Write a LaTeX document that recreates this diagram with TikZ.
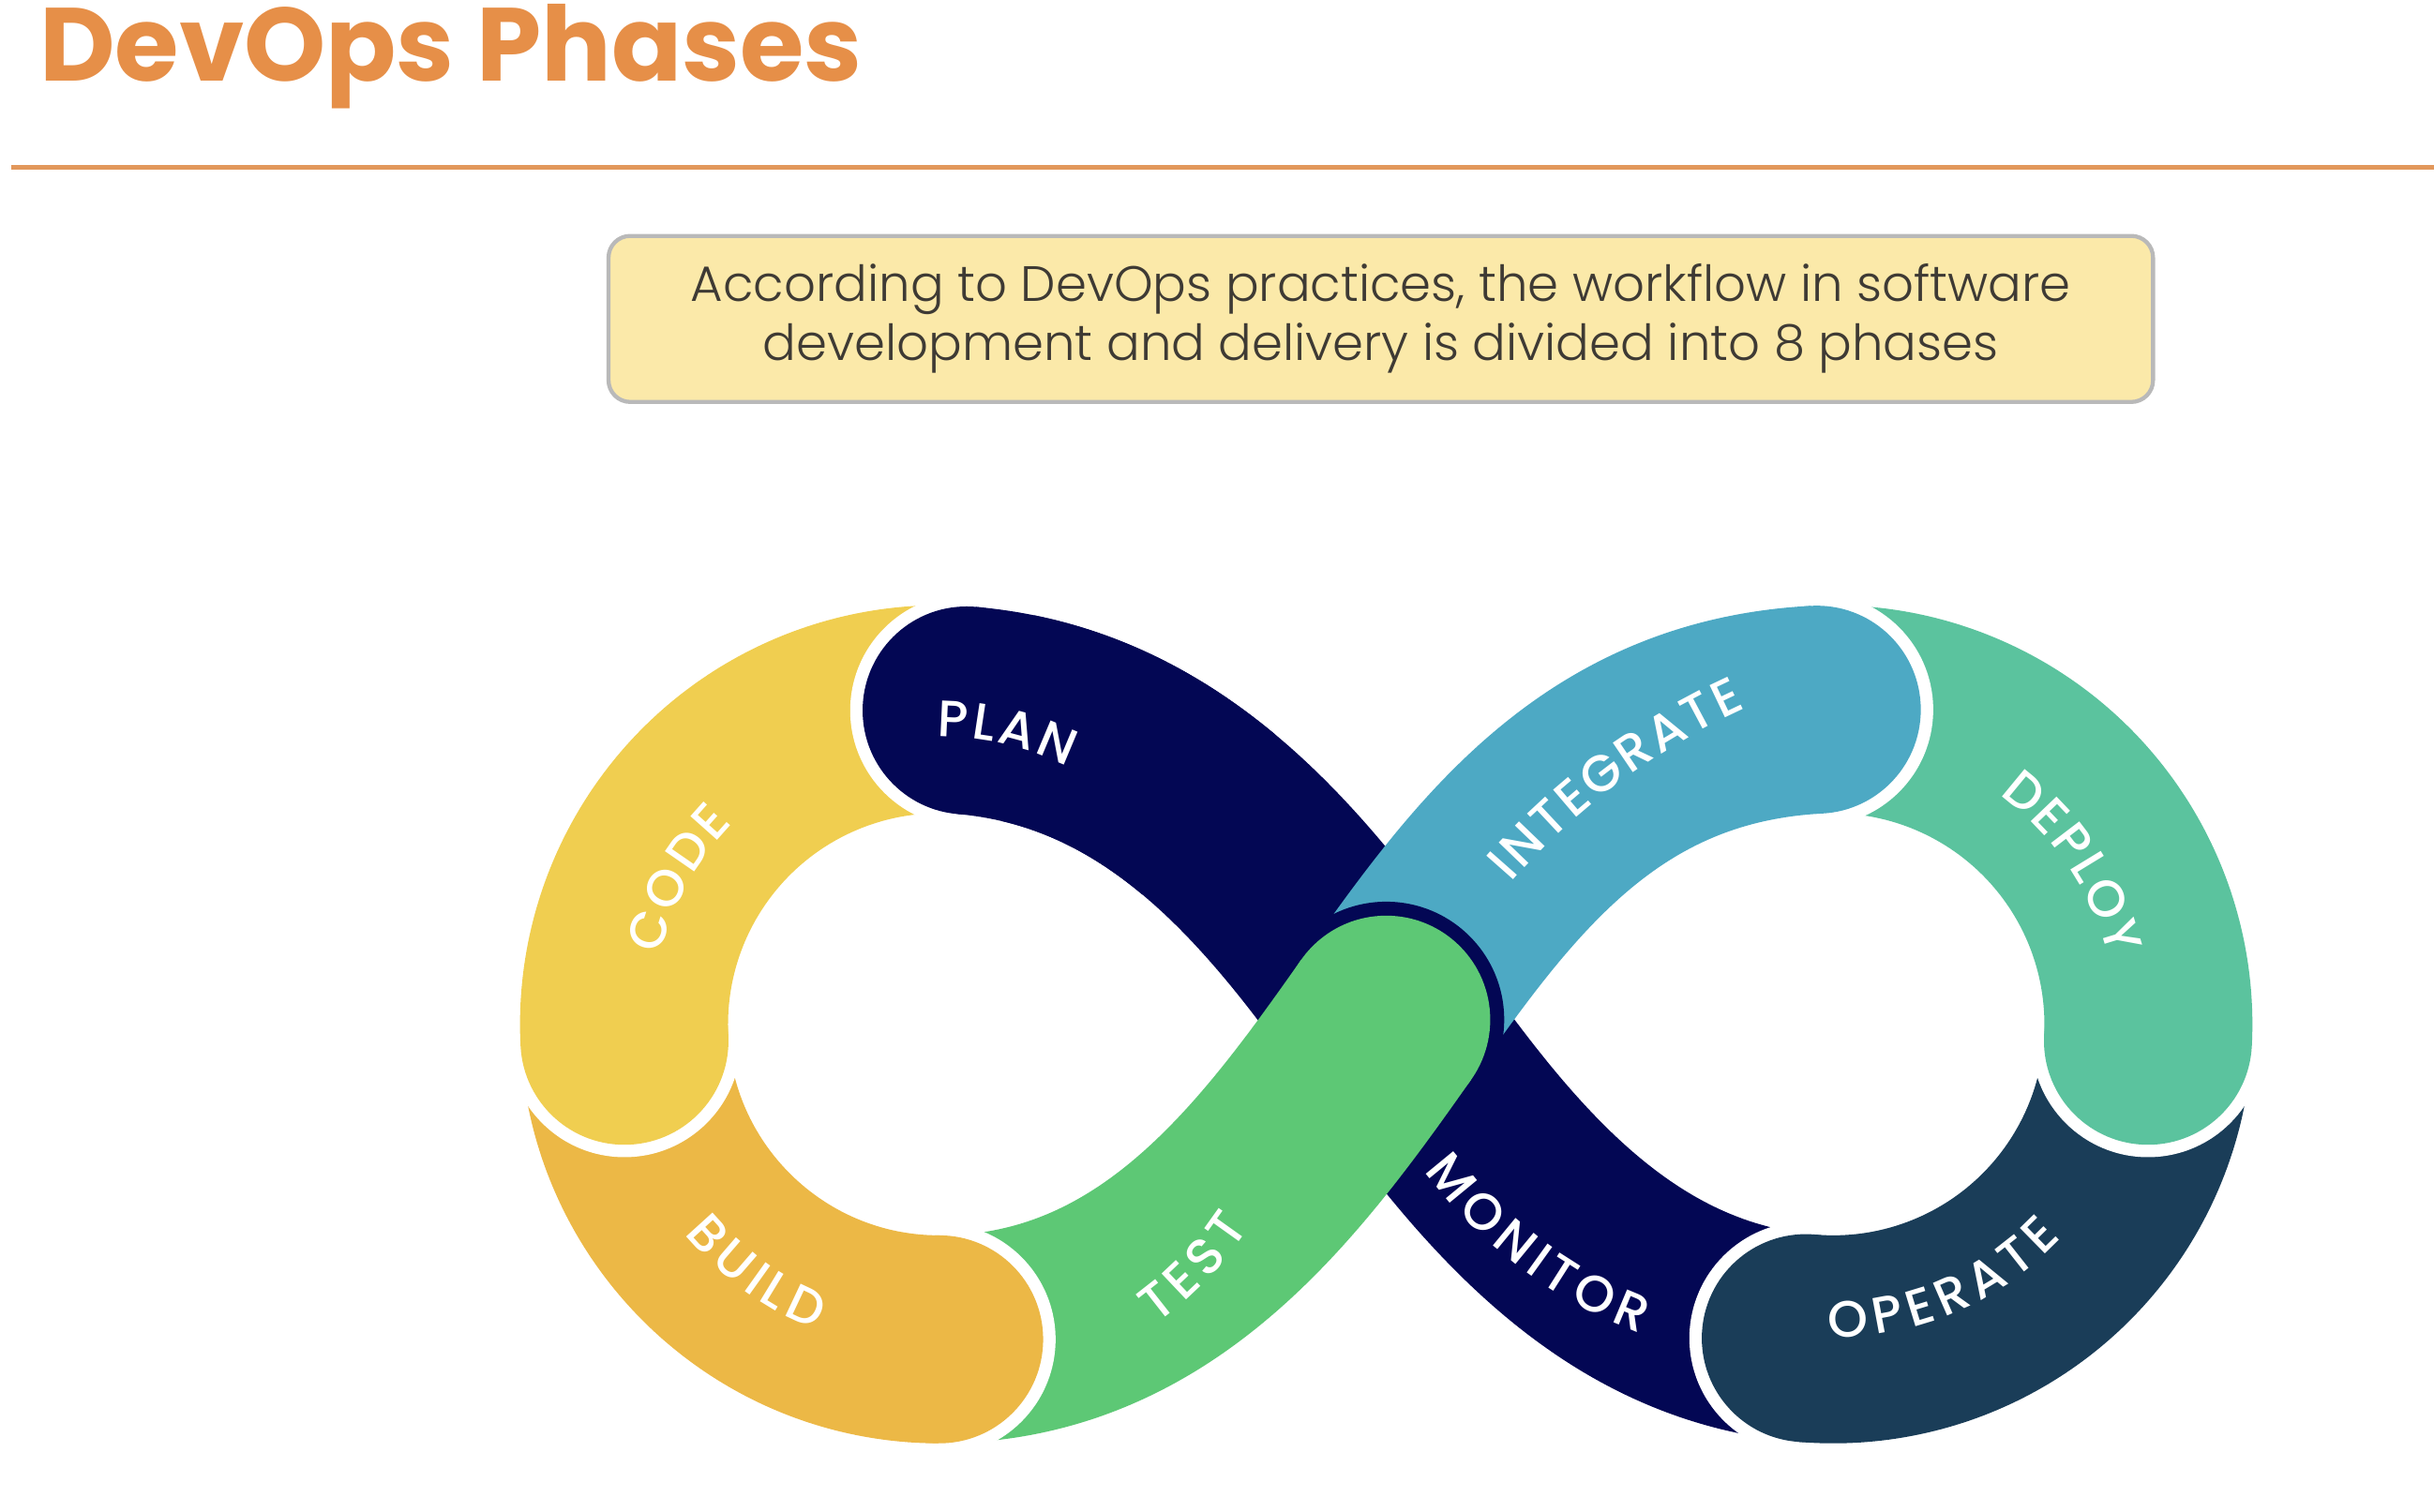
\documentclass[tikz,border=0pt]{standalone}
\usepackage{fontspec}
\setmainfont{Poppins}
\newfontfamily\lblfont{Poppins}[UprightFont=* Medium]
\newfontfamily\boxfont{Poppins}[UprightFont=* Light]
\usetikzlibrary{decorations.text}
\definecolor{codeY}{RGB}{240,206,80}
\definecolor{buildY}{RGB}{236,184,70}
\definecolor{testG}{RGB}{93,200,117}
\definecolor{navy}{RGB}{3,7,84}
\definecolor{integB}{RGB}{77,169,196}
\definecolor{deployG}{RGB}{91,195,158}
\definecolor{operD}{RGB}{26,61,88}
\definecolor{titleO}{RGB}{230,143,72}
\definecolor{ruleO}{RGB}{226,152,92}
\definecolor{boxF}{RGB}{251,233,169}
\definecolor{boxD}{RGB}{185,185,185}
\definecolor{txtG}{RGB}{62,58,52}
\newcommand\lblsize{\lblfont\fontsize{16.5}{16.5}\selectfont}
\newlength\wPLAN \newlength\wCODE \newlength\wBUILD \newlength\wTEST
\newlength\wINTEG \newlength\wDEPLOY \newlength\wOPER \newlength\wMONIT
% #1,#2 centre, #3 radius, #4 mid angle, #5 direction (1 ccw, -1 cw), #6 text, #7 width
\newcommand\arclabel[7]{%
  \pgfmathsetmacro\lblspan{max(5,(#7)*1.12/((#3)*0.5)*57.29578)}%
  \pgfmathsetmacro\lbla{#4-(#5)*\lblspan/2}%
  \pgfmathsetmacro\lblb{#4+(#5)*\lblspan/2}%
  \path[decorate, decoration={text along path, text align=fit to path,
    raise=-5.8pt, text color=white,
    text={|\lblsize|#6}}]
    ([shift={(\lbla:#3)}]#1,#2) arc[start angle=\lbla, end angle=\lblb, radius=#3];}
\begin{document}
\settowidth\wPLAN{\lblsize PLAN}%
\settowidth\wCODE{\lblsize CODE}%
\settowidth\wBUILD{\lblsize BUILD}%
\settowidth\wTEST{\lblsize TEST}%
\settowidth\wINTEG{\lblsize INTEGRATE}%
\settowidth\wDEPLOY{\lblsize DEPLOY}%
\settowidth\wOPER{\lblsize OPERATE}%
\settowidth\wMONIT{\lblsize MONITOR}%
\begin{tikzpicture}[x=0.5pt,y=0.5pt,
  band/.style={line width=67pt, line cap=butt},
  gapdisc/.style={fill=white},
]
\useasboundingbox (0,0) rectangle (1568,-974);
% title and rule
\node[anchor=base west, text=titleO, font=\bfseries\fontsize{33.5}{36}\selectfont, inner sep=0] (title) at (25,-52) {DevOps Phases};
\draw[ruleO, line width=1.5pt] (7,-108) -- (1568,-108);
% info box
\node[draw=boxD, fill=boxF, line width=1.3pt, rounded corners=7pt,
  minimum width=497.5pt, minimum height=53.5pt, align=center, text=txtG,
  font=\boxfont\fontsize{16}{19}\selectfont, inner sep=0] (box) at (889.5,-205.5)
  {According to DevOps practices, the workflow in software\\development and delivery is divided into 8 phases};
% key points of the infinity loop
\coordinate (C) at (893,-657);
\coordinate (TL) at ([shift={(605,-660)}]85:203);
\coordinate (L)  at ([shift={(605,-660)}]183:203);
\coordinate (BL) at (605,-863);
\coordinate (TR) at ([shift={(1181,-660)}]93:203);
\coordinate (R)  at ([shift={(1181,-660)}]-3:203);
\coordinate (BR) at ([shift={(1181,-660)}]-95:203);
\coordinate (PM) at (778.59,-524.74);
% navy base: MONITOR + PLAN
\draw[band, navy] (BR) .. controls (1038.8,-851.3) and (962,-755) .. (C)
  .. controls (824,-559) and (747,-468.7) .. (TL);
% OPERATE
\fill[gapdisc] (BR) circle[radius=75];
\draw[band, operD] (R) arc[start angle=-3, end angle=-95, radius=203];
\fill[operD] (BR) circle[radius=67];
% DEPLOY
\fill[gapdisc] (R) circle[radius=75];
\draw[band, deployG] (TR) arc[start angle=93, end angle=-3, radius=203];
\fill[deployG] (R) circle[radius=67];
% INTEGRATE
\fill[gapdisc] (TR) circle[radius=75];
\draw[band, integB] (C) .. controls (962,-559) and (1030.6,-464.6) .. (TR);
\fill[integB] (TR) circle[radius=67];
% TEST
\fill[navy] (C) circle[radius=76];
\draw[band, testG] (BL) .. controls (745,-863) and (824,-755) .. (C);
\fill[testG] (C) circle[radius=67];
% BUILD
\fill[gapdisc] (BL) circle[radius=75];
\draw[band, buildY] (L) arc[start angle=183, end angle=270, radius=203];
\fill[buildY] (BL) circle[radius=67];
% CODE
\fill[gapdisc] (L) circle[radius=75];
\draw[band, codeY] (TL) arc[start angle=85, end angle=183, radius=203];
\fill[codeY] (L) circle[radius=67];
% PLAN end over CODE
\fill[gapdisc] (TL) circle[radius=75];
\draw[band, navy] (PM) .. controls (735.18,-488.55) and (684.85,-463.25) .. (TL);
\fill[navy] (TL) circle[radius=67];
% labels
\arclabel{605}{-660}{197}{77}{-1}{PLAN}{\wPLAN}
\arclabel{605}{-660}{197}{150.8}{-1}{CODE}{\wCODE}
\arclabel{605}{-660}{201}{233.7}{1}{BUILD}{\wBUILD}
\arclabel{605}{-660}{227}{-43.7}{1}{TEST}{\wTEST}
\arclabel{1305}{-856}{450}{126.7}{-1}{INTEGRATE}{\wINTEG}
\arclabel{1181}{-660}{194}{34}{-1}{DEPLOY}{\wDEPLOY}
\arclabel{1181}{-660}{190}{-67}{1}{OPERATE}{\wOPER}
\arclabel{1167}{-568}{300}{233}{1}{MONITOR}{\wMONIT}
\end{tikzpicture}
\end{document}
